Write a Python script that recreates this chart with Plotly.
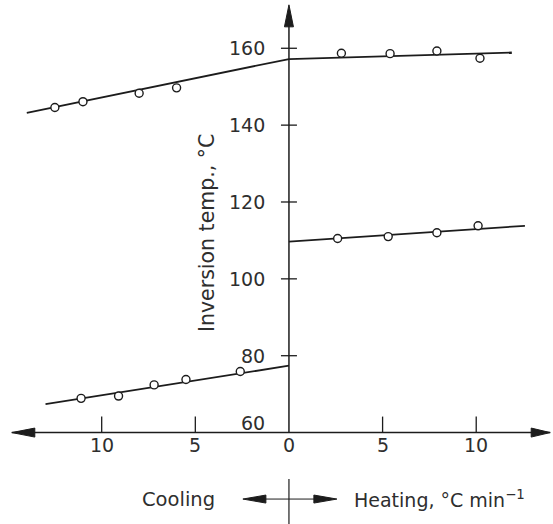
import plotly.graph_objects as go

# ---------------- data ----------------
cool_rate_upper = [-12.5, -11.0, -8.0, -6.0]
cool_T_upper = [144.6, 146.1, 148.3, 149.7]
heat_rate_upper = [2.8, 5.4, 7.9, 10.2]
heat_T_upper = [158.7, 158.6, 159.3, 157.4]

heat_rate_lower = [2.6, 5.3, 7.9, 10.1]
heat_T_lower = [110.5, 111.0, 112.0, 113.8]
cool_rate_lower = [-11.1, -9.1, -7.2, -5.5, -2.6]
cool_T_lower = [68.9, 69.5, 72.4, 73.8, 75.9]

# fitted straight lines (end points)
fit_upper_cool_x = [-14.0, 0.0]
fit_upper_cool_y = [143.2, 157.2]
fit_upper_heat_x = [0.0, 11.9]
fit_upper_heat_y = [157.2, 158.9]
fit_lower_heat_x = [0.0, 12.6]
fit_lower_heat_y = [109.7, 113.8]
fit_lower_cool_x = [-13.0, 0.0]
fit_lower_cool_y = [67.4, 77.4]

# ticks
x_tickvals = [-10, -5, 0, 5, 10]
x_ticktext = ["10", "5", "0", "5", "10"]
y_tickvals = [60, 80, 100, 120, 140, 160]
y_ticktext = ["60", "80", "100", "120", "140", "160"]

y_title = "Inversion temp., °C"
cool_label = "Cooling"
heat_label = "Heating, °C min<sup>−1</sup>"

# ---------------- figure ----------------
W, H = 553, 524
X_RANGE = [-15.43, 14.10]
Y_RANGE = [36.21, 172.56]
X_AXIS_Y = 60          # where horizontal axis sits
X_MIN_ARROW, X_MAX_ARROW = -14.8, 13.95
Y_MAX_ARROW = 171.3
BOTTOM_ARROW_Y = 42.7

INK = "#1c1c1c"
TEXT_INK = "#2e2e2e"
FONT = "DejaVu Sans"

fig = go.Figure()

line_style = dict(color=INK, width=1.8)
for xs, ys in [(fit_upper_cool_x, fit_upper_cool_y), (fit_upper_heat_x, fit_upper_heat_y),
               (fit_lower_heat_x, fit_lower_heat_y), (fit_lower_cool_x, fit_lower_cool_y)]:
    fig.add_trace(go.Scatter(x=xs, y=ys, mode="lines", line=line_style,
                             hoverinfo="skip", showlegend=False))

marker_style = dict(symbol="circle", size=8, color="white", line=dict(color=INK, width=1.4))
for xs, ys in [(cool_rate_upper, cool_T_upper), (heat_rate_upper, heat_T_upper),
               (heat_rate_lower, heat_T_lower), (cool_rate_lower, cool_T_lower)]:
    fig.add_trace(go.Scatter(x=xs, y=ys, mode="markers", marker=marker_style,
                             showlegend=False))

shapes = []
axis_line = dict(color=INK, width=1.5)
# horizontal axis
shapes.append(dict(type="line", xref="x", yref="y", x0=X_MIN_ARROW, x1=X_MAX_ARROW,
                   y0=X_AXIS_Y, y1=X_AXIS_Y, line=axis_line, layer="below"))
# vertical axis
shapes.append(dict(type="line", xref="x", yref="y", x0=0, x1=0,
                   y0=X_AXIS_Y, y1=Y_MAX_ARROW - 3, line=axis_line, layer="below"))


def tri(xa, ya, direction, length, half):
    # filled triangle in pixel units anchored at the tip (xa, ya)
    if direction == "left":
        p = f"M0,0 L{length},{half} L{length},{-half} Z"
    elif direction == "right":
        p = f"M0,0 L{-length},{half} L{-length},{-half} Z"
    else:  # up
        p = f"M0,0 L{half},{-length} L{-half},{-length} Z"
    return dict(type="path", xref="x", yref="y", xsizemode="pixel", ysizemode="pixel",
                xanchor=xa, yanchor=ya, path=p, fillcolor=INK,
                line=dict(color=INK, width=1))


shapes.append(tri(X_MIN_ARROW, X_AXIS_Y, "left", 23, 4.5))
shapes.append(tri(X_MAX_ARROW, X_AXIS_Y, "right", 19, 4.5))
shapes.append(tri(0, Y_MAX_ARROW, "up", 22, 4.5))

# x ticks (upward)
for v in x_tickvals:
    if v == 0:
        continue
    shapes.append(dict(type="line", xref="x", yref="y", ysizemode="pixel", yanchor=X_AXIS_Y,
                       x0=v, x1=v, y0=0, y1=16, line=dict(color=INK, width=1.3)))
# y ticks (crossing)
for v in y_tickvals:
    if v == X_AXIS_Y:
        continue
    shapes.append(dict(type="line", xref="x", yref="y", xsizemode="pixel", xanchor=0,
                       x0=-8, x1=8, y0=v, y1=v, line=dict(color=INK, width=1.3)))

# bottom cooling / heating double arrow
shapes.append(dict(type="line", xref="x", yref="y", x0=-1.5, x1=1.5,
                   y0=BOTTOM_ARROW_Y, y1=BOTTOM_ARROW_Y, line=dict(color=INK, width=1)))
shapes.append(tri(-2.46, BOTTOM_ARROW_Y, "left", 23, 4))
shapes.append(tri(2.56, BOTTOM_ARROW_Y, "right", 23, 4))
shapes.append(dict(type="line", xref="x", yref="paper", x0=0, x1=0,
                   y0=0, y1=(H - 479) / H, line=dict(color=INK, width=1.2)))

annotations = []
tfont = dict(family=FONT, size=19, color=TEXT_INK)
for v, t in zip(y_tickvals, y_ticktext):
    annotations.append(dict(x=0, y=v, xref="x", yref="y", text=t, showarrow=False,
                            xanchor="right", yanchor="middle", xshift=-22,
                            yshift=10 if v == X_AXIS_Y else 0, font=tfont))
for v, t in zip(x_tickvals, x_ticktext):
    annotations.append(dict(x=v, y=X_AXIS_Y, xref="x", yref="y", text=t, showarrow=False,
                            xanchor="center", yanchor="middle", yshift=-12, font=tfont))

annotations.append(dict(x=-4.38, y=111.9, xref="x", yref="y", text=y_title, textangle=-90,
                        showarrow=False, xanchor="center", yanchor="middle",
                        font=dict(family=FONT, size=20.5, color=TEXT_INK)))
annotations.append(dict(x=-5.9, y=BOTTOM_ARROW_Y, xref="x", yref="y", text=cool_label,
                        showarrow=False, xanchor="center", yanchor="middle",
                        font=dict(family=FONT, size=19.5, color=TEXT_INK)))
annotations.append(dict(x=3.35, y=BOTTOM_ARROW_Y, xref="x", yref="y", text=heat_label,
                        showarrow=False, xanchor="left", yanchor="middle", font=tfont))

fig.update_layout(
    width=W, height=H, autosize=False,
    margin=dict(l=0, r=0, t=0, b=0),
    paper_bgcolor="white", plot_bgcolor="white",
    xaxis=dict(range=X_RANGE, visible=False, fixedrange=True),
    yaxis=dict(range=Y_RANGE, visible=False, fixedrange=True),
    shapes=shapes, annotations=annotations, showlegend=False,
)

fig.write_html("out.html", config={"displayModeBar": False},
               post_script="document.body.style.margin='0';document.body.style.overflow='hidden';")
